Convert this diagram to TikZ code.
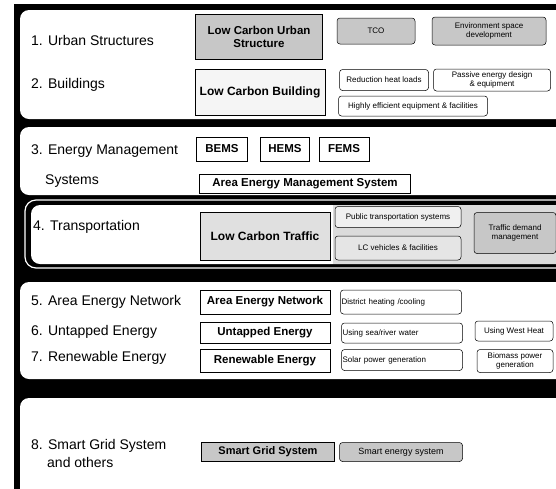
\documentclass[tikz,border=0pt]{standalone}
\usepackage{fontspec}
\setmainfont{Liberation Sans}

\begin{document}
\begin{tikzpicture}[x=1pt,y=1pt]
\tikzset{
  panel/.style={fill=white, rounded corners=9pt},
  rowlabel/.style={anchor=west, inner sep=0pt, align=left, font=\fontsize{14}{16}\selectfont},
  mainbox/.style={draw=black, fill=white, line width=0.6pt, inner sep=1pt, align=center, font=\bfseries\fontsize{11.5}{13}\selectfont},
  subbox/.style={draw=black, fill=white, line width=0.5pt, rounded corners=3pt, inner sep=1pt, align=center, font=\fontsize{8}{9}\selectfont},
  leftsub/.style={subbox, align=left, text width=119pt},
  shaded/.style={fill=black!22}
}
\useasboundingbox (0,0) rectangle (556,-488);
\clip (0,0) rectangle (556,-488);
% dark frame and panels
\fill [black] (14,-4) rectangle (570,-500);
\fill [panel] (20,-10) rectangle (575,-119);
\fill [panel] (20,-127) rectangle (575,-195);
\draw [white, line width=1.2pt, rounded corners=11pt] (25,-200) rectangle (575,-268);
\fill [panel] (31,-205) rectangle (575,-264);
\fill [black!14] (333,-205) rectangle (575,-264);
\fill [panel] (20,-282) rectangle (575,-379);
\fill [panel] (20,-398) rectangle (575,-500);

% 1. and 2.
\node [rowlabel] (urban) at (31,-40) {1. Urban Structures};
\node [rowlabel] (bldg) at (31,-85) {2. Buildings};
\node [mainbox, shaded, minimum width=127pt, minimum height=45pt] (lcus) at (259,-37) {Low Carbon Urban\\Structure};
\node [subbox, shaded, minimum width=78pt, minimum height=26pt] (tco) at (376,-31) {TCO};
\node [subbox, shaded, minimum width=114pt, minimum height=28pt] (envsp) at (489,-31) {Environment space\\development};
\node [mainbox, fill=black!4, font=\bfseries\fontsize{12}{14}\selectfont, minimum width=130pt, minimum height=46pt] (lcb) at (260,-92) {Low Carbon Building};
\node [subbox, minimum width=89pt, minimum height=21pt] (redheat) at (384,-80) {Reduction heat loads};
\node [subbox, minimum width=117pt, minimum height=22pt] (passive) at (492,-80) {Passive energy design\\\& equipment};
\node [subbox, minimum width=149pt, minimum height=20pt] (higheff) at (413,-106) {Highly efficient equipment \& facilities};

% 3.
\node [rowlabel] (emslabel) at (31,-166) {3. Energy Management\\[14pt]\hspace*{14pt}Systems};
\node [mainbox, minimum width=51pt, minimum height=24pt] (bems) at (222,-149) {BEMS};
\node [mainbox, minimum width=49pt, minimum height=24pt] (hems) at (285,-149) {HEMS};
\node [mainbox, minimum width=50pt, minimum height=24pt] (fems) at (344,-149) {FEMS};
\node [mainbox, minimum width=211pt, minimum height=19pt] (aems) at (305,-184) {Area Energy Management System};

% 4.
\node [rowlabel] (trans) at (33,-227) {4. Transportation};
\node [mainbox, fill=black!12, font=\bfseries\fontsize{12}{14}\selectfont, minimum width=130pt, minimum height=48pt] (lct) at (265,-236) {Low Carbon Traffic};
\node [subbox, fill=black!6, minimum width=126pt, minimum height=21pt] (pubtrans) at (398,-217) {Public transportation systems};
\node [subbox, fill=black!10, minimum width=126pt, minimum height=24pt] (lcveh) at (398,-248) {LC vehicles \& facilities};
\node [subbox, shaded, minimum width=82pt, minimum height=41pt] (tdm) at (515,-233) {Traffic demand\\management};

% 5. 6. 7.
\node [rowlabel] (aenlabel) at (31,-302) {5. Area Energy Network};
\node [rowlabel] (untlabel) at (31,-332) {6. Untapped Energy};
\node [rowlabel] (renlabel) at (31,-358) {7. Renewable Energy};
\node [mainbox, minimum width=130pt, minimum height=24pt] (aen) at (265,-302) {Area Energy Network};
\node [mainbox, minimum width=130pt, minimum height=21pt] (untapped) at (265,-333) {Untapped Energy};
\node [mainbox, minimum width=130pt, minimum height=23pt] (renew) at (265,-361) {Renewable Energy};
\node [leftsub, minimum height=24pt] (dhc) at (401,-302) {District heating /cooling};
\node [leftsub, minimum height=20pt] (seawater) at (402,-333) {Using sea/river water};
\node [leftsub, minimum height=21pt] (solar) at (402,-360) {Solar power generation};
\node [subbox, minimum width=78pt, minimum height=20pt] (westheat) at (514,-331) {Using West Heat};
\node [subbox, minimum width=76pt, minimum height=23pt] (biomass) at (515,-361) {Biomass power\\generation};

% 8.
\node [rowlabel, font=\fontsize{14}{18}\selectfont] (sgslabel) at (31,-453) {8. Smart Grid System\\\hspace*{16pt}and others};
\node [mainbox, shaded, font=\bfseries\fontsize{11}{13}\selectfont, minimum width=133pt, minimum height=19pt] (sgs) at (268,-452) {Smart Grid System};
\node [subbox, shaded, font=\fontsize{9}{10}\selectfont, minimum width=123pt, minimum height=19pt] (smartes) at (401,-452) {Smart energy system};
\end{tikzpicture}
\end{document}
